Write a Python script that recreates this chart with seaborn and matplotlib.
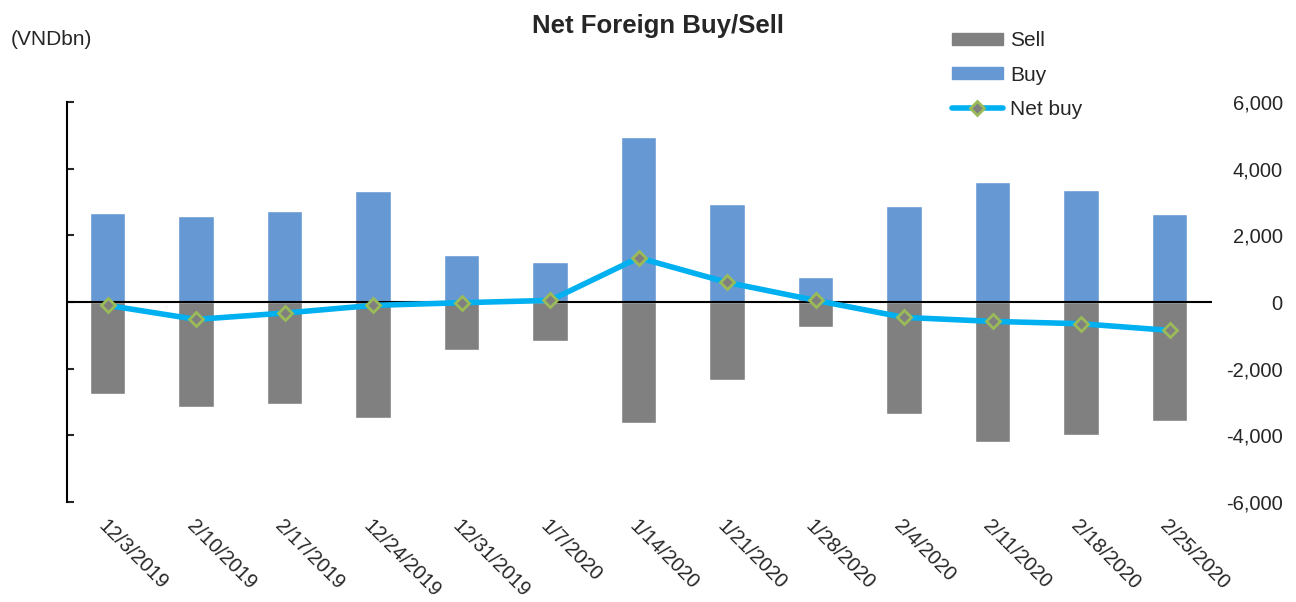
import seaborn as sns
import matplotlib.pyplot as plt
import matplotlib.ticker as mticker
from matplotlib.patches import Patch
from matplotlib.lines import Line2D

# ---------------------------
# Data (VND bn)
# ---------------------------
dates = ["12/3/2019", "2/10/2019", "2/17/2019", "12/24/2019", "12/31/2019",
         "1/7/2020", "1/14/2020", "1/21/2020", "1/28/2020", "2/4/2020",
         "2/11/2020", "2/18/2020", "2/25/2020"]
buy = [2680, 2590, 2730, 3340, 1410, 1210, 4950, 2950, 760, 2870, 3590, 3350, 2650]
sell = [-2770, -3150, -3070, -3480, -1430, -1160, -3620, -2350, -740, -3360, -4190, -3990, -3580]
net_buy = [-100, -520, -330, -100, -20, 50, 1330, 590, 50, -460, -580, -650, -850]

buy_color = "#6699D3"
sell_color = "#808080"
net_color = "#00B0F0"

# ---------------------------
# Visualization
# ---------------------------
sns.set_style("white")
plt.rcParams["font.family"] = ["Liberation Sans", "DejaVu Sans"]

fig = plt.figure(figsize=(12.96, 6.02), dpi=100)
ax = fig.add_axes([0.0517, 0.166, 0.8835, 0.6645])

sns.barplot(x=dates, y=buy, color=buy_color, width=0.4, saturation=1, ax=ax)
sns.barplot(x=dates, y=sell, color=sell_color, width=0.4, saturation=1, ax=ax)
ax.axhline(0, color="black", lw=1.5, zorder=3)
sns.pointplot(x=dates, y=net_buy, color=net_color, marker="D", markersize=7,
              markerfacecolor="#7F7F7F", markeredgecolor="#9BBB59",
              markeredgewidth=2, linewidth=4, ax=ax, zorder=4)

ax.set_ylim(-6000, 6000)
ax.set_xlim(-0.46, 12.48)
ax.yaxis.set_major_locator(mticker.MultipleLocator(2000))
ax.tick_params(axis="y", direction="in", length=5, width=1.5, labelleft=False, left=True)
ax.tick_params(axis="x", length=0, labelsize=14.5, pad=10)
for lbl in ax.get_xticklabels():
    lbl.set_rotation(-45)
    lbl.set_ha("left")
    lbl.set_rotation_mode("anchor")
for side in ["top", "right", "bottom"]:
    ax.spines[side].set_visible(False)
ax.spines["left"].set_color("black")
ax.spines["left"].set_linewidth(1.5)

# right axis labels
ax2 = ax.twinx()
ax2.set_ylim(-6000, 6000)
ax2.yaxis.set_major_locator(mticker.MultipleLocator(2000))
ax2.yaxis.set_major_formatter(mticker.FuncFormatter(lambda v, p: f"{v:,.0f}"))
ax2.tick_params(axis="y", length=0, labelsize=14.5)
for side in ["top", "right", "bottom", "left"]:
    ax2.spines[side].set_visible(False)
for lbl in ax2.get_yticklabels():
    lbl.set_ha("right")
ax2.yaxis.set_tick_params(pad=51)

fig.text(0.508, 0.956, "Net Foreign Buy/Sell", ha="center", va="center",
         fontsize=18.5, fontweight="bold")
fig.text(0.008, 0.935, "(VNDbn)", ha="left", va="center", fontsize=15)

handles = [
    Patch(color=sell_color, label="Sell"),
    Patch(color=buy_color, label="Buy"),
    Line2D([0], [0], color=net_color, lw=4, marker="D", markersize=7,
           markerfacecolor="#7F7F7F", markeredgecolor="#9BBB59",
           markeredgewidth=2, label="Net buy"),
]
fig.legend(handles=handles, loc="upper left", bbox_to_anchor=(0.720, 0.979),
           frameon=False, fontsize=15, handlelength=2.45, handleheight=0.5,
           handletextpad=0.34, labelspacing=0.73)

plt.savefig("out.png", dpi=100)
plt.close()
